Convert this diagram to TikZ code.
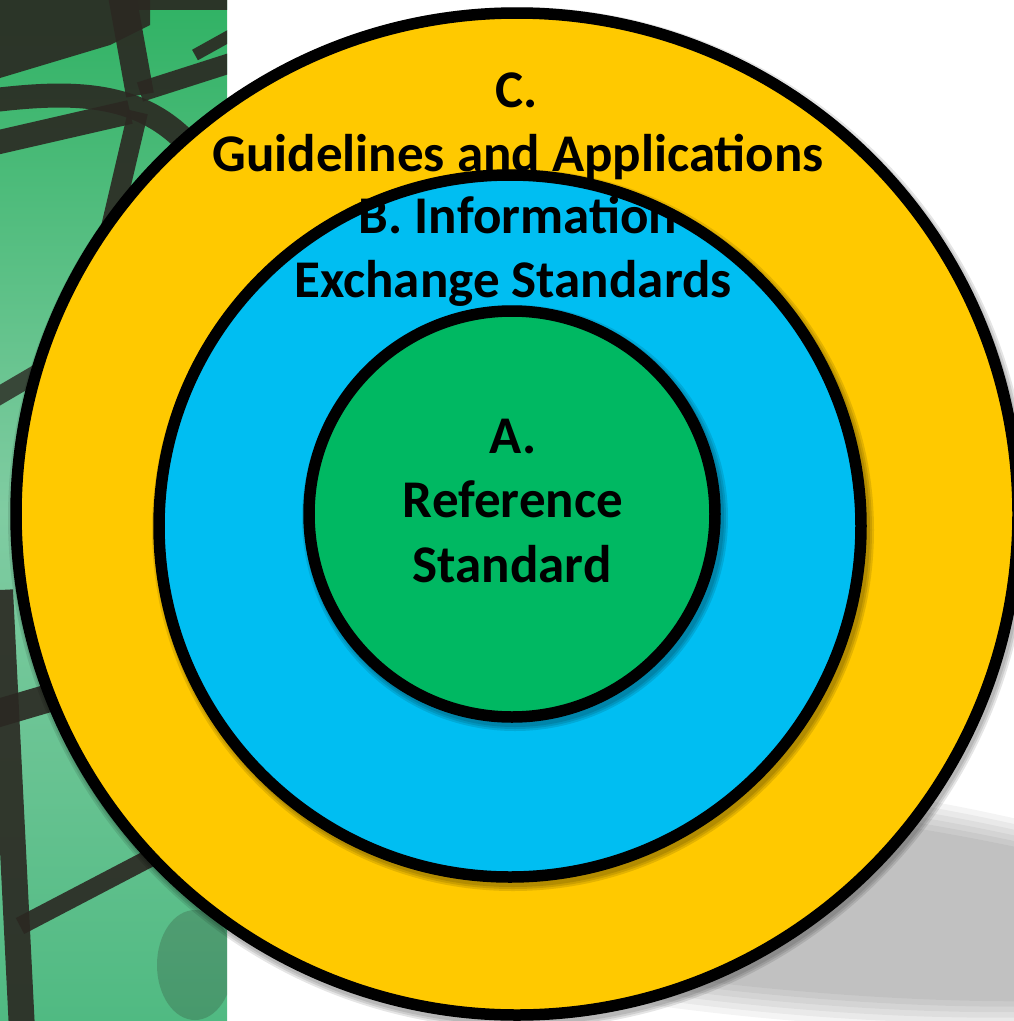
\documentclass[tikz,border=0pt]{standalone}
\usepackage{fontspec}
\setmainfont{Carlito}
\definecolor{yellowC}{RGB}{255,201,0}
\definecolor{blueC}{RGB}{0,190,242}
\definecolor{greenC}{RGB}{0,184,98}
\definecolor{barC}{RGB}{43,40,34}
\definecolor{stripTop}{RGB}{48,178,100}
\definecolor{stripMid}{RGB}{128,204,162}
\definecolor{stripBot}{RGB}{80,186,130}
\begin{document}
\begin{tikzpicture}[x=1pt,y=-1pt,
  ring/.style={circle, draw=black, line width=11.5pt, inner sep=0pt, outer sep=0pt},
  lbl/.style={font=\fontsize{53}{63}\selectfont\bfseries, anchor=base, inner sep=0pt},
  bar/.style={draw=barC, line cap=butt, line join=round, opacity=0.9},
]
\useasboundingbox (0,0) rectangle (1014,1021);
\clip (0,0) rectangle (1014,1021);
\fill[white] (0,0) rectangle (1014,1021);
% large soft floor shadow
\begin{scope}[shift={(740,895)}, rotate=-6.2]
  \foreach \d in {-14,-8,-2,4,10,16}
    \fill[black, opacity=0.042] (0,0) ellipse [x radius={(545+\d)*1pt}, y radius={(104+\d)*1pt}];
\end{scope}
% left photo strip
\begin{scope}
\clip (0,0) rectangle (227,1021);
\shade[top color=stripTop, bottom color=stripBot, middle color=stripMid] (0,0) rectangle (227,1021);
\fill[barC, opacity=0.9] (0,0) -- (150,0) -- (150,25) -- (110,45) -- (0,78) -- cycle;
\draw[bar, line width=20pt] (130,0) -- (240,0);
\draw[bar, line width=28pt] (122,-5) -- (140,95);
\draw[bar, line width=24pt] (-5,100) .. controls (80,90) and (150,92) .. (200,158);
\draw[bar, line width=24pt] (-5,143) -- (130,112);
\draw[bar, line width=20pt] (140,92) -- (240,60);
\draw[bar, line width=12pt] (195,55) -- (240,30);
\draw[bar, line width=20pt] (138,112) -- (108,240);
\draw[bar, line width=18pt, opacity=0.8] (-5,398) -- (60,360);
\draw[bar, line width=26pt] (0,590) -- (22,1030);
\draw[bar, line width=28pt] (-5,714) -- (90,686);
\draw[bar, line width=18pt] (20,926) -- (150,858);
\draw[bar, line width=14pt, opacity=0.5] (150,858) -- (240,822);
\fill[barC, opacity=0.22] (195,965) ellipse [x radius=38pt, y radius=55pt];
\end{scope}
% outer circle
\foreach \d in {6,8,10} \fill[black, opacity=0.10] (519,518) circle [radius={(501+\d)*1pt}];
\node[ring, fill=yellowC, minimum size=1002pt] (outer) at (517,514) {};
% middle circle
\foreach \d in {6,8,10} \fill[black, opacity=0.11] (513,530) circle [radius={(351+\d)*1pt}];
\node[ring, fill=blueC, minimum size=702pt] (middle) at (510,526) {};
% inner circle
\foreach \d in {6,8,10} \fill[black, opacity=0.11] (515,518) circle [radius={(203+\d)*1pt}];
\node[ring, fill=greenC, minimum size=406pt] (inner) at (512,514) {};
% labels
\node[lbl] (c1) at (517,107) {C.};
\node[lbl] (c2) at (518,171) {Guidelines and Applications};
\node[lbl] (b1) at (518,233) {B. Information};
\node[lbl] (b2) at (513,297) {Exchange Standards};
\node[lbl] (a1) at (513,453) {A.};
\node[lbl] (a2) at (513,517) {Reference};
\node[lbl] (a3) at (512,582) {Standard};
\end{tikzpicture}
\end{document}
